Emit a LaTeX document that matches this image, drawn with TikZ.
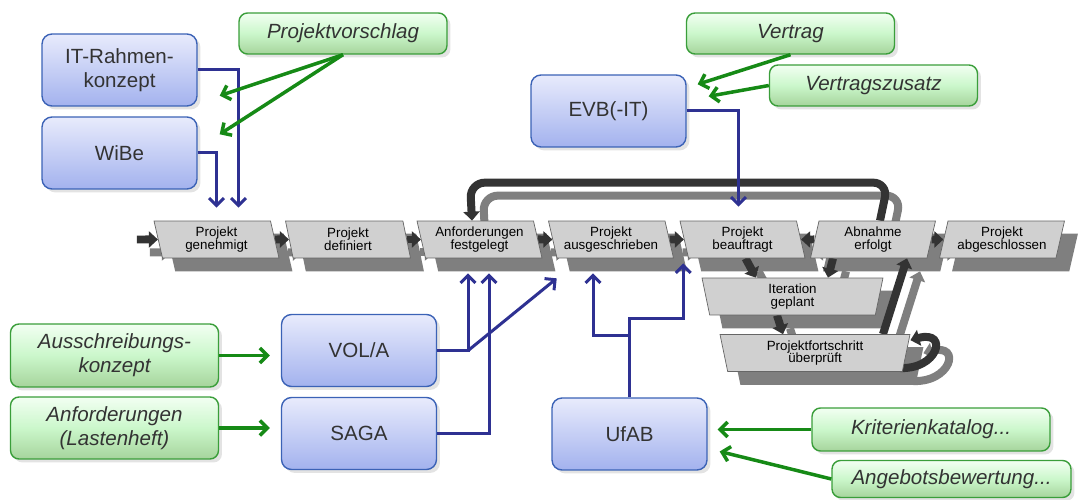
\documentclass[tikz,border=0pt]{standalone}
\usepackage{fontspec}
\setmainfont{Liberation Sans}
\usetikzlibrary{arrows.meta, shapes.geometric, shadows}

\definecolor{flowdark}{HTML}{333333}
\definecolor{flowshade}{HTML}{7F7F7F}
\definecolor{stagefill}{HTML}{D0D0D0}
\definecolor{linkblue}{HTML}{2E3192}
\definecolor{docgreen}{HTML}{168A16}
\definecolor{boxtop}{HTML}{E8EBFC}
\definecolor{boxbottom}{HTML}{A3B2EE}
\definecolor{boxline}{HTML}{3B62B6}
\definecolor{doctop}{HTML}{F2FFF2}
\definecolor{docmid}{HTML}{CBF7CB}
\definecolor{docbottom}{HTML}{A6D49C}
\definecolor{docline}{HTML}{3A9E3A}
\definecolor{labelgray}{HTML}{333333}

\pgfdeclarelayer{shade}
\pgfdeclarelayer{back}
\pgfsetlayers{shade,back,main}

% Pfeile der Meilensteinkette (einmal als Schatten, einmal dunkel)
\newcommand{\stageflow}{%
  \draw[flow] (start) -- (genehmigt);
  \draw[flow] (genehmigt) -- (definiert);
  \draw[flow] (definiert) -- (festgelegt);
  \draw[flow] (festgelegt) -- (ausgeschrieben);
  \draw[flow] (ausgeschrieben) -- (beauftragt);
  \draw[flow] (abnahme) -- (beauftragt);
  \draw[flow] (abnahme) -- (abgeschlossen);
  \draw[flow] ([xshift=0.06cm]beauftragt.south) -- ([xshift=-0.73cm]iteration.north);
  \draw[flow] ([xshift=-0.8cm]abnahme.south) -- ([xshift=0.71cm]iteration.north);
  \draw[flow] ([xshift=-0.31cm]iteration.south) -- ([xshift=-0.64cm]fortschritt.north);
  \draw[flow] ([xshift=1.36cm]fortschritt.north) -- ([xshift=0.68cm]abnahme.south);
  \draw[flow] ([xshift=-0.1cm,yshift=0.08cm]fortschritt.bottom right corner)
    to[out=-5, in=15, looseness=3.4] ([yshift=-0.12cm]fortschritt.top right corner);
  \draw[flow, rounded corners=0.3cm] ([xshift=0.14cm]abnahme.north) -- ++(8,-38)
    -- ++(-418,0) -- ([xshift=-0.15cm]festgelegt.north);
}

\begin{document}
\begin{tikzpicture}[x=0.02cm, y=-0.02cm,
  stage/.style={trapezium, trapezium stretches body, draw=black!60, line width=0.4pt,
    fill=stagefill, inner sep=0pt, minimum width=2.5cm, minimum height=0.74cm,
    align=center, font=\fontsize{7.6}{7.2}\selectfont},
  stagefwd/.style={stage, trapezium left angle=108.7, trapezium right angle=71.3},
  stageback/.style={stage, trapezium left angle=71.3, trapezium right angle=108.7},
  iterstage/.style={stage, trapezium left angle=107, trapezium right angle=107, minimum width=3.62cm},
  planbox/.style={draw=boxline, line width=0.8pt, rounded corners=0.2cm,
    top color=boxtop, bottom color=boxbottom, minimum width=3.1cm, minimum height=1.44cm,
    align=center, text=labelgray, font=\fontsize{11.7}{13.5}\selectfont,
    drop shadow={opacity=0.22, shadow xshift=0.07cm, shadow yshift=-0.07cm}},
  docbox/.style={draw=docline, line width=0.8pt, rounded corners=0.17cm,
    top color=doctop, bottom color=docbottom, middle color=docmid,
    minimum width=4.16cm, minimum height=0.82cm, align=center, text=labelgray,
    font=\fontsize{11.7}{13.5}\selectfont\itshape,
    drop shadow={opacity=0.22, shadow xshift=0.07cm, shadow yshift=-0.07cm}},
  flow/.style={draw=flowdark, line width=0.16cm, -{Triangle[width=0.32cm, length=0.18cm]}},
  link/.style={draw=linkblue, line width=0.06cm, -{Straight Barb[width=0.3cm, length=0.15cm]}},
  docarrow/.style={draw=docgreen, line width=0.07cm, -{Straight Barb[width=0.3cm, length=0.15cm]}}]

  \useasboundingbox (0,0) rectangle (1080,500);

  % ---- Meilensteine ----
  \node[stagefwd] (genehmigt) at (216.5,239.5) {Projekt\\genehmigt};
  \node[stagefwd] (definiert) at (348,239.5) {Projekt\\definiert};
  \node[stagefwd] (festgelegt) at (479.5,239.5) {Anforderungen\\festgelegt};
  \node[stagefwd] (ausgeschrieben) at (611,239.5) {Projekt\\ausgeschrieben};
  \node[stagefwd] (beauftragt) at (742.5,239.5) {Projekt\\beauftragt};
  \node[stageback] (abnahme) at (873,239.5) {Abnahme\\erfolgt};
  \node[stageback] (abgeschlossen) at (1002,239.5) {Projekt\\abgeschlossen};
  \node[iterstage] (iteration) at (792.5,296.5) {Iteration\\geplant};
  \node[iterstage, minimum width=3.8cm] (fortschritt) at (815,353) {Projektfortschritt\\überprüft};
  \coordinate (start) at ([xshift=-0.42cm]genehmigt.west);

  % ---- Schatten und Pfeile ----
  \begin{pgfonlayer}{shade}
    \begin{scope}[transform canvas={shift={(0.26cm,-0.26cm)}}, flow/.append style={draw=flowshade}]
      \foreach \s in {genehmigt,definiert,festgelegt,ausgeschrieben,beauftragt,abnahme,abgeschlossen,iteration,fortschritt}
        \fill[flowshade] (\s.top left corner) -- (\s.top right corner)
          -- (\s.bottom right corner) -- (\s.bottom left corner) -- cycle;
      \stageflow
    \end{scope}
  \end{pgfonlayer}
  \begin{pgfonlayer}{back}
    \stageflow
  \end{pgfonlayer}

  % ---- Vorgaben ----
  \node[planbox] (rahmen) at (119.5,70) {IT-Rahmen-\\konzept};
  \node[planbox] (wibe) at (119.5,153) {WiBe};
  \node[planbox] (evb) at (608.5,111) {EVB(-IT)};
  \node[planbox] (vola) at (359,350.5) {VOL/A};
  \node[planbox] (saga) at (359,433.5) {SAGA};
  \node[planbox] (ufab) at (629.5,434) {UfAB};

  % ---- Produkte ----
  \node[docbox] (vorschlag) at (343,33.5) {Projektvorschlag};
  \node[docbox] (vertrag) at (790.5,33.5) {Vertrag};
  \node[docbox] (zusatz) at (873.5,85.5) {Vertragszusatz};
  \node[docbox, minimum height=1.26cm] (ausschr) at (114.5,355.5) {Ausschreibungs-\\konzept};
  \node[docbox, minimum height=1.24cm] (lasten) at (114.5,428) {Anforderungen\\(Lastenheft)};
  \node[docbox, minimum width=4.76cm, minimum height=0.86cm] (kriterien) at (931,429.5) {Kriterienkatalog...};
  \node[docbox, minimum width=4.78cm, minimum height=0.74cm] (bewertung) at (951.5,479) {Angebotsbewertung...};

  % ---- blaue Verbindungen ----
  \draw[link] (wibe.east) -| ([yshift=0.26cm]genehmigt.north);
  \draw[link] (rahmen.east) -| ([xshift=0.44cm,yshift=0.26cm]genehmigt.north);
  \draw[link] (evb.east) -| ([xshift=-0.08cm,yshift=0.28cm]beauftragt.north);
  \draw[link] (vola.east) -| ([xshift=-0.23cm,yshift=-0.3cm]festgelegt.south);
  \draw[link] (vola.east) -- ++(31,0) -- ([yshift=-0.4cm]ausgeschrieben.bottom left corner);
  \draw[link] (saga.east) -| ([xshift=0.19cm,yshift=-0.3cm]festgelegt.south);
  \draw[link] (ufab.north) -- ++(0,-79) -| ([xshift=-0.1cm,yshift=-0.1cm]beauftragt.bottom left corner);
  \draw[link] ([yshift=1.24cm]ufab.north) -| ([xshift=-0.36cm,yshift=-0.3cm]ausgeschrieben.south);

  % ---- gruene Pfeile ----
  \draw[docarrow] (vorschlag.south) -- ([xshift=0.44cm,yshift=0.22cm]rahmen.south east);
  \draw[docarrow] (vorschlag.south) -- ([xshift=0.44cm,yshift=-0.36cm]wibe.north east);
  \draw[docarrow] (vertrag.south) -- ([xshift=0.22cm,yshift=-0.2cm]evb.north east);
  \draw[docarrow] (zusatz.west) -- ([xshift=0.44cm,yshift=-0.44cm]evb.north east);
  \draw[docarrow] (ausschr.east) -- ([xshift=-0.22cm]vola.west |- ausschr.east);
  \draw[docarrow] (lasten.east) -- ([xshift=-0.22cm]saga.west |- lasten.east);
  \draw[docarrow] (kriterien.west) -- ([xshift=0.2cm]ufab.east |- kriterien.west);
  \draw[docarrow] (bewertung.west) -- ([xshift=0.24cm,yshift=-0.35cm]ufab.east);
\end{tikzpicture}
\end{document}
